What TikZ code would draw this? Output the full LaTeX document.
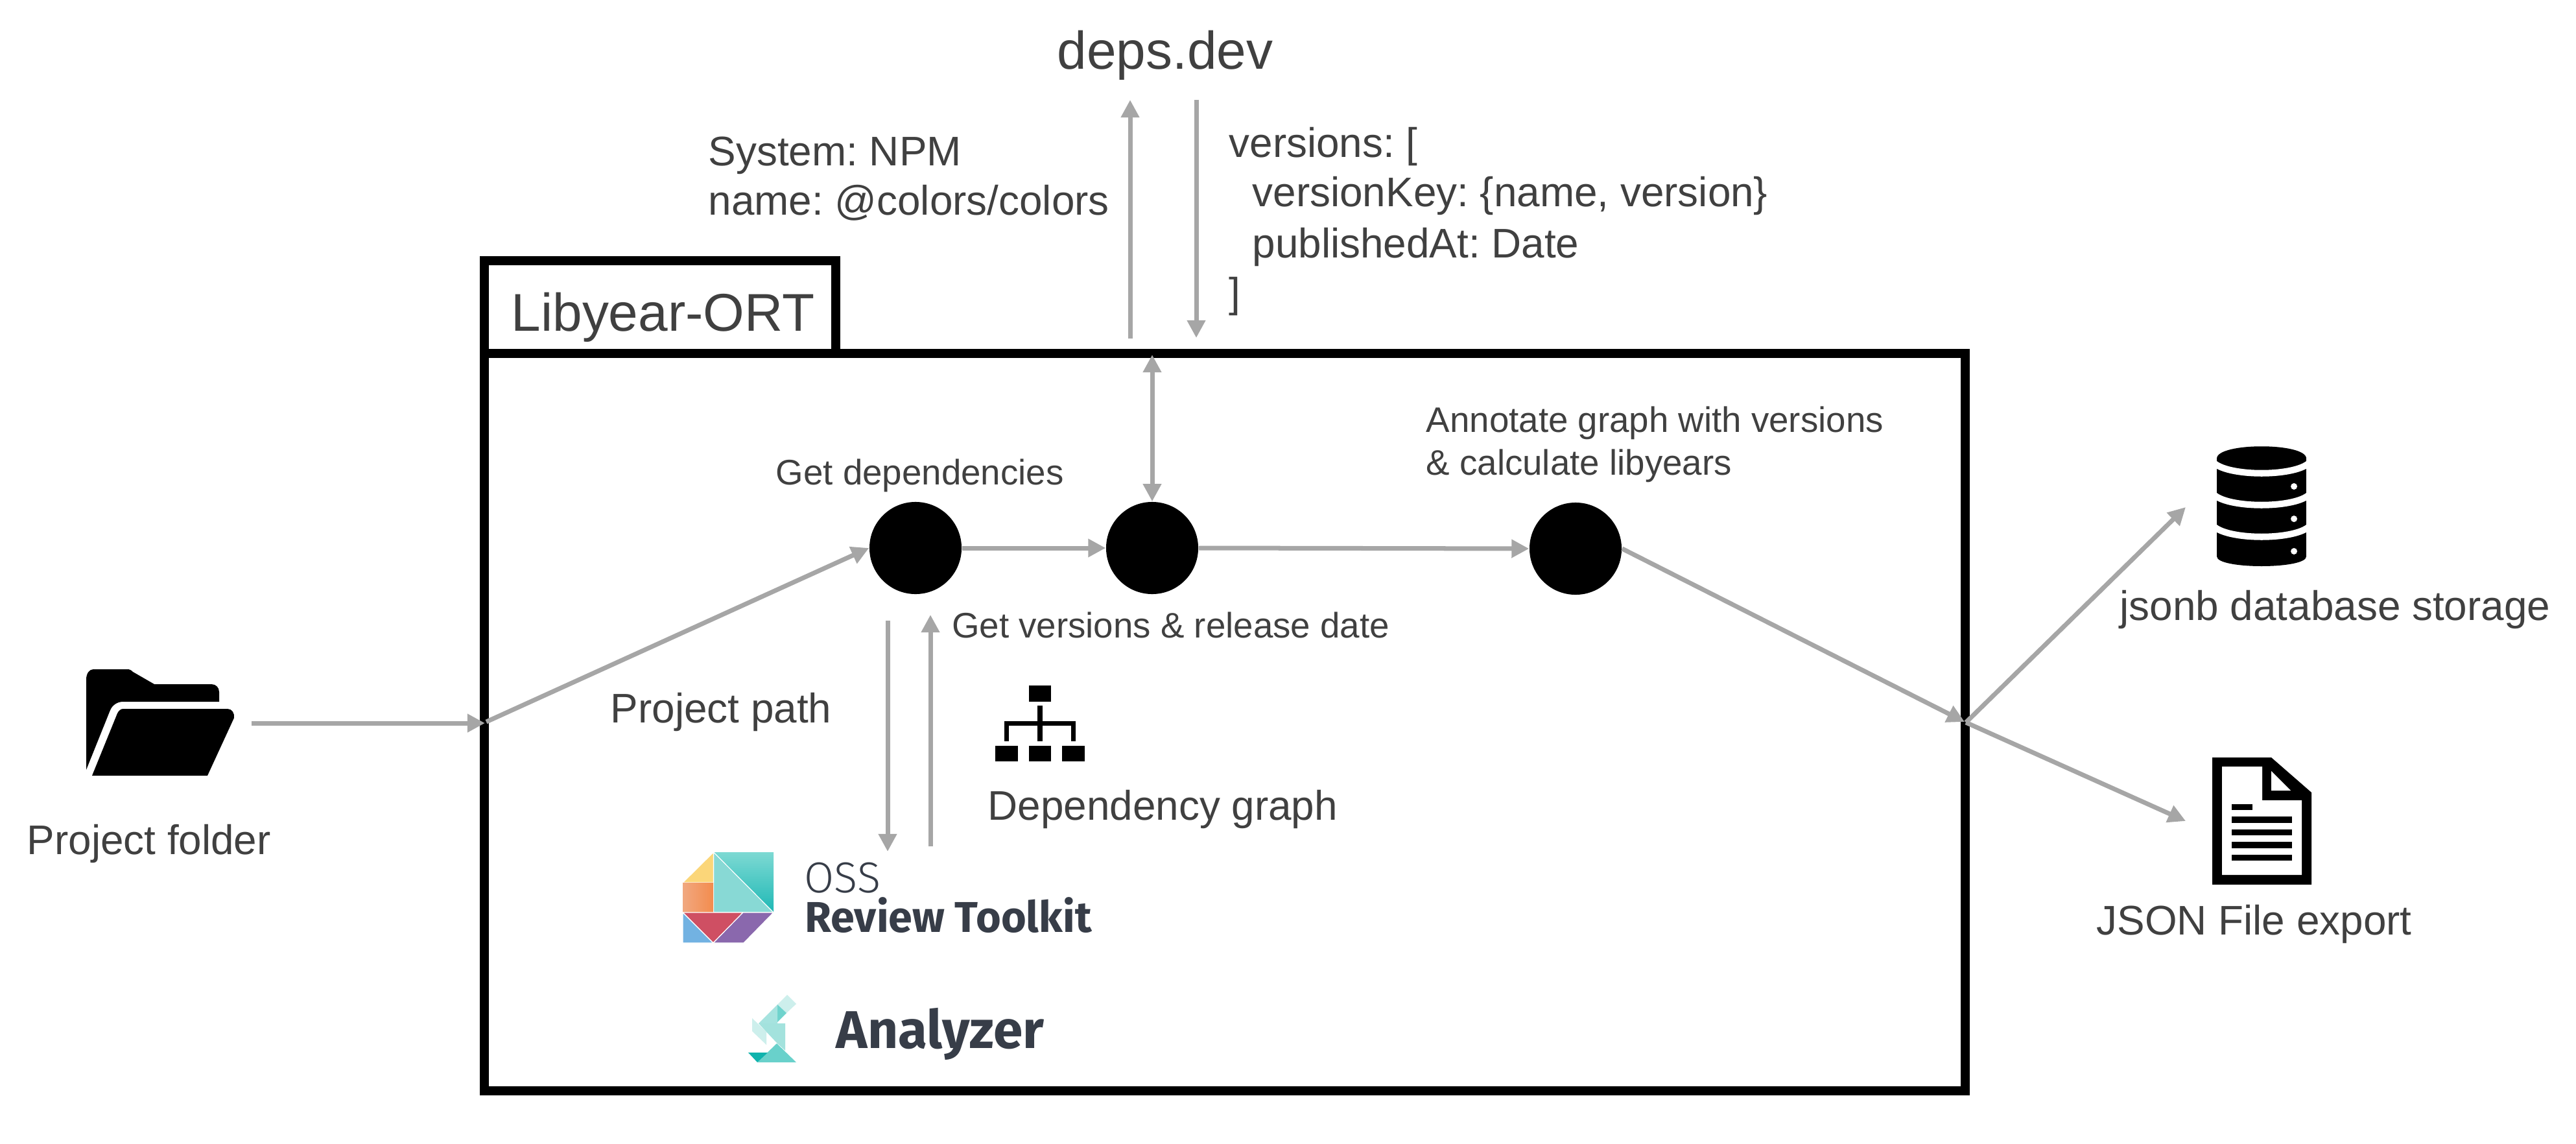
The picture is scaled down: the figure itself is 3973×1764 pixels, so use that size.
\documentclass[tikz,border=0pt]{standalone}
\usepackage{fontspec}
\usetikzlibrary{arrows.meta}
\setmainfont{Liberation Sans}
\newfontfamily\logobold{Fira Sans}[UprightFont=*,BoldFont=* Bold]
\newfontfamily\logolight{Fira Sans}[UprightFont=* Light]
\definecolor{txt}{HTML}{404040}
\definecolor{arr}{HTML}{A6A6A6}
\definecolor{logoink}{HTML}{373D48}
\tikzset{
  link/.style={draw=arr,line width=0.07cm,-{Triangle[length=0.27cm,width=0.27cm]}},
  linkboth/.style={draw=arr,line width=0.07cm,{Triangle[length=0.27cm,width=0.27cm]}-{Triangle[length=0.27cm,width=0.27cm]}},
  frame/.style={draw=black,line width=0.14cm,inner sep=0pt,fill=white},
  dot/.style={circle,fill=black,inner sep=0pt,minimum size=1.42cm},
  lab/.style={text=txt,inner sep=0pt,anchor=base west},
  big/.style={lab,font=\fontsize{23.3}{28}\selectfont},
  mid/.style={lab,font=\fontsize{18.15}{22}\selectfont},
  sml/.style={lab,font=\fontsize{15.55}{20}\selectfont},
  icon/.style={fill=black,draw=none},
  cut/.style={fill=white,draw=none},
  piece/.style={draw=white,line width=0.012cm,line join=round},
}
\frenchspacing
\begin{document}
\begin{tikzpicture}[x=0.01cm,y=-0.01cm]
\path[fill=white] (0,0) rectangle (3973,1764);
\useasboundingbox (0,0) rectangle (3973,1764);

% frames
\node[frame,minimum width=5.41cm,minimum height=1.425cm] (tab) at (1018,473.75) {};
\node[frame,minimum width=22.83cm,minimum height=11.37cm] (box) at (1889,1113.5) {};

% circles
\node[dot] (c1) at (1412,845) {};
\node[dot] (c2) at (1777,845) {};
\node[dot] (c3) at (2430,846) {};

% free ends
\coordinate (fs) at (388,1115);
\coordinate (fe) at (748,1115);
\coordinate (fj) at (750,1113);
\coordinate (in) at (3030,1113);
\coordinate (out) at (3032,1114);
\coordinate (db) at (3371,782);
\coordinate (doc) at (3371,1266);
\coordinate (ua) at (1743,522);
\coordinate (ub) at (1743,154);
\coordinate (da) at (1845,154);
\coordinate (db2) at (1845,521);
\coordinate (bt) at (1777,547);
\coordinate (oa) at (1369,957);
\coordinate (ob) at (1369,1313);
\coordinate (ra) at (1435,1305);
\coordinate (rb) at (1435,948);

% connectors
\draw[link] (fs) -- (fe);
\draw[link] (fj) -- (c1.west);
\draw[link] (c1.east) -- (c2.west);
\draw[link] (c2.east) -- (c3.west);
\draw[link] (c3.east) -- (in);
\draw[link] (out) -- (db);
\draw[link] (out) -- (doc);
\draw[link] (ua) -- (ub);
\draw[link] (da) -- (db2);
\draw[linkboth] (bt) -- (c2.north);
\draw[link] (oa) -- (ob);
\draw[link] (ra) -- (rb);

% labels
\node[big] (t1) at (1630,106.5) {deps.dev};
\node[big] (t2) at (788,511) {Libyear-ORT};
\node[mid] (t3) at (1092,256) {System: NPM};
\node[mid] (t4) at (1092,332) {name: @colors/colors};
\node[mid] (t5) at (1895,243) {versions: [};
\node[mid] (t6) at (1931,319) {versionKey: \{name, version\}};
\node[mid] (t7) at (1931,398) {publishedAt: Date};
\node[mid] (t8) at (1895,474) {]};
\node[sml] (t9) at (2199,666.5) {Annotate graph with versions};
\node[sml] (t10) at (2199,732.5) {\& calculate libyears};
\node[sml] (t11) at (1196,747.5) {Get dependencies};
\node[sml] (t12) at (1467.5,983.5) {Get versions \& release date};
\node[mid] (t13) at (941,1114.5) {Project path};
\node[mid] (t14) at (1523,1264.5) {Dependency graph};
\node[mid] (t15) at (41,1317.5) {Project folder};
\node[mid] (t16) at (3269,956) {jsonb database storage};
\node[mid] (t17) at (3233,1441.5) {JSON File export};

% folder icon
\fill[icon] (133,1187) -- (133,1048) .. controls (133,1038) and (138,1032) .. (144,1032) -- (196,1032) .. controls (200,1032) and (202,1033) .. (205,1036) -- (238,1055) -- (326,1055) .. controls (333,1055) and (338,1060) .. (338,1067) -- (338,1082) -- (190,1082) .. controls (180,1082) and (173,1088) .. (170,1095) -- cycle;
\fill[icon] (142,1196) -- (181,1100) .. controls (183,1096) and (186,1093) .. (190,1093) -- (351,1093) .. controls (358,1093) and (362,1100) .. (361,1107) -- (320,1196) -- cycle;

% tree icon
\fill[icon] (1587,1057) rectangle (1621,1082);
\fill[icon] (1600,1088) rectangle (1608,1143);
\fill[icon] (1549,1112) rectangle (1659,1119);
\fill[icon] (1549,1112) rectangle (1556,1143);
\fill[icon] (1652,1112) rectangle (1659,1143);
\fill[icon] (1535,1150) rectangle (1570,1174);
\fill[icon] (1587,1150) rectangle (1621,1174);
\fill[icon] (1638,1150) rectangle (1673,1174);

% database icon
\fill[icon] (3419,707) .. controls (3419,682) and (3557,682) .. (3557,707) -- (3557,858) .. controls (3557,878) and (3419,878) .. (3419,858) -- cycle;
\draw[white,line width=0.1cm] (3412,711) .. controls (3430,736) and (3546,736) .. (3564,711);
\draw[white,line width=0.1cm] (3412,760) .. controls (3430,785) and (3546,785) .. (3564,760);
\draw[white,line width=0.1cm] (3412,809) .. controls (3430,834) and (3546,834) .. (3564,809);
\fill[white] (3412,690) rectangle (3419,880);
\fill[white] (3557,690) rectangle (3564,880);
\fill[white] (3538,750) circle (5);
\fill[white] (3538,800) circle (5);
\fill[white] (3538,850) circle (5);

% document icon
\fill[icon] (3412,1168) -- (3503,1168) -- (3565,1222) -- (3565,1364) -- (3412,1364) -- cycle;
\fill[cut] (3427,1182) -- (3489,1182) -- (3489,1234) -- (3550,1234) -- (3550,1349) -- (3427,1349) -- cycle;
\fill[cut] (3503,1189) -- (3503,1219) -- (3533,1219) -- cycle;
\fill[icon] (3442,1239.5) rectangle (3474,1249);
\fill[icon] (3442,1259) rectangle (3535,1269);
\fill[icon] (3442,1279) rectangle (3535,1288);
\fill[icon] (3442,1298) rectangle (3535,1308);
\fill[icon] (3442,1318) rectangle (3535,1327);

% ORT logo
\shade[draw=none,left color={rgb,255:red,125;green,217;blue,211},right color={rgb,255:red,30;green,184;blue,181},shading angle=0] (1100.5,1314) -- (1193,1314) -- (1193,1407) -- cycle;
\fill[piece,fill={rgb,255:red,136;green,217;blue,213}] (1100.5,1314) -- (1193,1407) -- (1100.5,1407) -- cycle;
\fill[piece,fill={rgb,255:red,251;green,214;blue,121}] (1100.5,1314) -- (1100.5,1361) -- (1053,1361) -- cycle;
\shade[left color={rgb,255:red,241;green,168;blue,128},right color={rgb,255:red,243;green,140;blue,78},draw=none] (1053,1361) rectangle (1100,1407);
\fill[piece,fill={rgb,255:red,207;green,79;blue,99}] (1053,1407) -- (1146,1407) -- (1100,1454) -- cycle;
\fill[piece,fill={rgb,255:red,114;green,178;blue,226}] (1053,1407) -- (1100,1454) -- (1053,1454) -- cycle;
\fill[piece,fill={rgb,255:red,138;green,104;blue,173}] (1146,1407) -- (1193,1407) -- (1147,1454) -- (1100,1454) -- cycle;
\node[inner sep=0pt,anchor=base west,text=logoink,font=\logolight\fontsize{19}{22}\selectfont] (oss) at (1240,1376) {OSS};
\node[inner sep=0pt,anchor=base west,text=logoink,font=\logobold\bfseries\fontsize{18.9}{22}\selectfont] (ort) at (1241,1437) {Review Toolkit};

% Analyzer logo
\fill[fill={rgb,255:red,205;green,239;blue,236}] (1214,1534) -- (1228,1548) -- (1213,1562) -- (1199,1549) -- cycle;
\fill[fill={rgb,255:red,111;green,211;blue,205}] (1199,1549) -- (1213,1562) -- (1199,1576) -- cycle;
\fill[fill={rgb,255:red,166;green,227;blue,223}] (1199,1549) -- (1199,1578) -- (1170,1578) -- cycle;
\fill[fill={rgb,255:red,205;green,239;blue,236}] (1160,1570) -- (1182,1591) -- (1182,1611) -- (1160,1590) -- cycle;
\fill[fill={rgb,255:red,163;green,226;blue,221}] (1170,1578) -- (1211,1578) -- (1211,1620) -- (1198,1608) -- (1182,1591) -- cycle;
\fill[fill={rgb,255:red,105;green,209;blue,203}] (1198,1609) -- (1228,1638) -- (1168,1638) -- cycle;
\fill[fill={rgb,255:red,15;green,179;blue,173}] (1154,1623) -- (1184,1623) -- (1168,1638) -- cycle;
\node[inner sep=0pt,anchor=base west,text=logoink,font=\logobold\bfseries\fontsize{23.3}{28}\selectfont] (ana) at (1289,1616) {Analyzer};
\end{tikzpicture}
\end{document}
